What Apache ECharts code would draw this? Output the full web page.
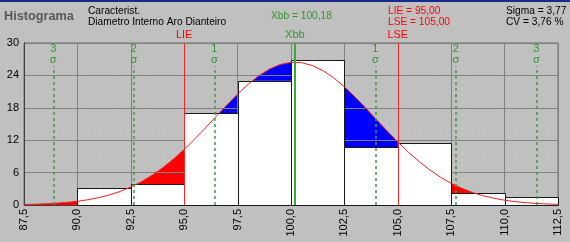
<!DOCTYPE html>
<html><head><meta charset="utf-8">
<script src="https://cdn.jsdelivr.net/npm/echarts@6/dist/echarts.min.js"></script>
<style>html,body{margin:0;padding:0;background:#c0c0c0}#c{width:570px;height:242px}</style>
</head><body><div id="c"></div>
<script>
// ---- data ----
const binLower = [87.5, 90.0, 92.5, 95.0, 97.5, 100.0, 102.5, 105.0, 107.5, 110.0];
const binUpper = [90.0, 92.5, 95.0, 97.5, 100.0, 102.5, 105.0, 107.5, 110.0, 112.5];
const barValues = [0, 3.1, 3.9, 17.0, 23.0, 26.9, 10.7, 11.4, 2.2, 1.4];
const curveX = [87.5,88,88.5,89,89.5,90,90.5,91,91.5,92,92.5,93,93.5,94,94.5,95,95.5,96,96.5,97,97.5,98,98.5,99,99.5,100,100.5,101,101.5,102,102.5,103,103.5,104,104.5,105,105.5,106,106.5,107,107.5,108,108.5,109,109.5,110,110.5,111,111.5,112,112.5];
const curveY = [0.09,0.14,0.22,0.33,0.48,0.69,0.98,1.36,1.87,2.51,3.32,4.31,5.50,6.90,8.50,10.29,12.24,14.30,16.43,18.53,20.54,22.38,23.95,25.19,26.02,26.42,26.35,25.83,24.88,23.54,21.89,20.00,17.95,15.83,13.72,11.68,9.77,8.03,6.49,5.15,4.02,3.08,2.32,1.71,1.25,0.89,0.62,0.43,0.29,0.19,0.13];
const LIE = 95.0, LSE = 105.0, XBB = 100.18;
const sigmaLines = [88.87, 92.64, 96.41, 103.95, 107.72, 111.49];
const sigmaLabels = ['3', '2', '1', '1', '2', '3'];
const sigmaLineTop = 25.7;
const xTicks = {min: 87.5, max: 112.5, interval: 2.5};
const yTicks = {min: 0, max: 30, interval: 6};

const FONT = '"Liberation Sans", Arial, sans-serif';
const RED = '#ff0000', BLUE = '#0000ff', GREEN = '#2f962f';

// fill polygons: area between bar top and curve where curve is above bar
const fills = [];
for (let i = 0; i < binLower.length; i++) {
  const lo = binLower[i], hi = binUpper[i], b = barValues[i];
  const pts = [];
  let prev = null;
  for (let j = 0; j < curveX.length; j++) {
    const x = curveX[j], f = curveY[j];
    if (x < lo - 1e-9 || x > hi + 1e-9) continue;
    if (prev && (prev[1] - b) * (f - b) < 0) {
      const t = (b - prev[1]) / (f - prev[1]);
      pts.push([prev[0] + t * (x - prev[0]), b]);
    }
    pts.push([x, Math.max(f, b)]);
    prev = [x, f];
  }
  pts.push([hi, b]); pts.push([lo, b]);
  const out = (hi <= LIE || lo >= LSE);
  fills.push({pts: pts, color: out ? RED : BLUE});
}

const chart = echarts.init(document.getElementById('c'), null, {renderer: 'canvas'});
const fmt = v => v.toFixed(1).replace('.', ',');

const markData = [
  {xAxis: LIE, lineStyle: {color: '#f02828', width: 1, type: 'solid'}, label: {formatter: 'LIE', color: '#ff0000'}},
  {xAxis: LSE, lineStyle: {color: '#f02828', width: 1, type: 'solid'}, label: {formatter: 'LSE', color: '#ff0000'}},
  {xAxis: XBB, lineStyle: {color: '#3aa83a', width: 2, type: 'solid'}, label: {formatter: 'Xbb', color: GREEN}}
];
sigmaLines.forEach((x, i) => {
  markData.push([
    {coord: [x, 0], lineStyle: {color: '#3c9c3c', width: 1.5, type: [3, 3]},
     label: {formatter: sigmaLabels[i] + '\nσ', color: GREEN, lineHeight: 11, distance: 1}},
    {coord: [x, sigmaLineTop]}
  ]);
});

const HF = '10.2px ' + FONT;

chart.setOption({
  animation: false,
  backgroundColor: '#c0c0c0',
  textStyle: {fontFamily: FONT},
  grid: {left: 24, right: 12, top: 43, bottom: 37, show: true, backgroundColor: '#c0c0c0', borderColor: '#707070', borderWidth: 1, z: 0},
  xAxis: [{
    type: 'value', min: xTicks.min, max: xTicks.max, interval: xTicks.interval, z: 2,
    axisLine: {show: true, lineStyle: {color: '#404040'}},
    axisTick: {show: false},
    axisLabel: {rotate: 90, fontSize: 11, color: '#000', margin: 4, fontFamily: FONT, formatter: fmt, showMinLabel: true, showMaxLabel: true},
    splitLine: {show: true, lineStyle: {color: '#808080', width: 1}}
  }, {
    type: 'value', min: xTicks.min, max: xTicks.max, interval: xTicks.interval, z: 0.5, position: 'bottom',
    axisLine: {show: false}, axisTick: {show: false}, axisLabel: {show: false},
    splitLine: {show: false},
    minorTick: {show: false, splitNumber: 5},
    minorSplitLine: {show: true, lineStyle: {color: '#d6d6d6', width: 1, type: [1, 5.48]}}
  }],
  yAxis: {
    type: 'value', min: yTicks.min, max: yTicks.max, interval: yTicks.interval, z: 2,
    axisLine: {show: true, lineStyle: {color: '#404040'}},
    axisTick: {show: false},
    axisLabel: {fontSize: 11, color: '#000', margin: 5, fontFamily: FONT},
    splitLine: {show: true, lineStyle: {color: '#808080', width: 1}}
  },
  series: [
    {
      type: 'custom', z: 1, silent: true,
      data: fills.map((f, i) => [binLower[i], binUpper[i], barValues[i]]),
      encode: {x: [0, 1], y: 2},
      renderItem: (params, api) => {
        const f = fills[params.dataIndex];
        return {type: 'polygon', shape: {points: f.pts.map(p => api.coord(p))}, style: {fill: f.color, stroke: null}};
      }
    },
    {
      type: 'custom', z: 3, silent: true,
      data: barValues.map((v, i) => [binLower[i], binUpper[i], v]),
      encode: {x: [0, 1], y: 2},
      renderItem: (params, api) => {
        const v = api.value(2);
        if (!v) return null;
        const p1 = api.coord([api.value(0), v]);
        const p2 = api.coord([api.value(1), 0]);
        const x1 = Math.round(p1[0]) + 0.5, y1 = Math.round(p1[1]) + 0.5;
        const x2 = Math.round(p2[0]) + 0.5, y2 = Math.round(p2[1]) + 0.5;
        return {type: 'rect', shape: {x: x1, y: y1, width: x2 - x1, height: y2 - y1},
                style: {fill: '#ffffff', stroke: '#1a1a1a', lineWidth: 1}};
      }
    },
    {
      type: 'line', z: 4, silent: true,
      data: curveX.map((x, i) => [x, curveY[i]]),
      showSymbol: false, symbol: 'none', smooth: false,
      lineStyle: {color: '#f02020', width: 1},
      markLine: {
        silent: true, symbol: 'none', z: 5,
        label: {show: true, position: 'end', fontSize: 11, fontFamily: FONT, distance: 3},
        data: markData
      }
    }
  ],
  graphic: [
    {type: 'rect', shape: {x: 0, y: 0, width: 570, height: 2}, style: {fill: '#1a2a8a'}},
    {type: 'text', left: 4, top: 10, style: {text: 'Histograma', fill: '#585858', font: 'bold 12.7px ' + FONT, shadowColor: '#f2f2f2', shadowOffsetX: 1, shadowOffsetY: 1, shadowBlur: 0}},
    {type: 'text', left: 88, top: 6, style: {text: 'Caracterist.', fill: '#000', font: HF}},
    {type: 'text', left: 88, top: 17, style: {text: 'Diametro Interno Aro Dianteiro', fill: '#000', font: HF}},
    {type: 'text', left: 271, top: 11, style: {text: 'Xbb = 100,18', fill: GREEN, font: HF}},
    {type: 'text', left: 388, top: 6, style: {text: 'LIE = 95,00', fill: '#ff0000', font: HF}},
    {type: 'text', left: 388, top: 17, style: {text: 'LSE = 105,00', fill: '#ff0000', font: HF}},
    {type: 'text', left: 506, top: 6, style: {text: 'Sigma = 3,77', fill: '#000', font: HF}},
    {type: 'text', left: 506, top: 17, style: {text: 'CV = 3,76 %', fill: '#000', font: HF}}
  ]
});
</script></body></html>
